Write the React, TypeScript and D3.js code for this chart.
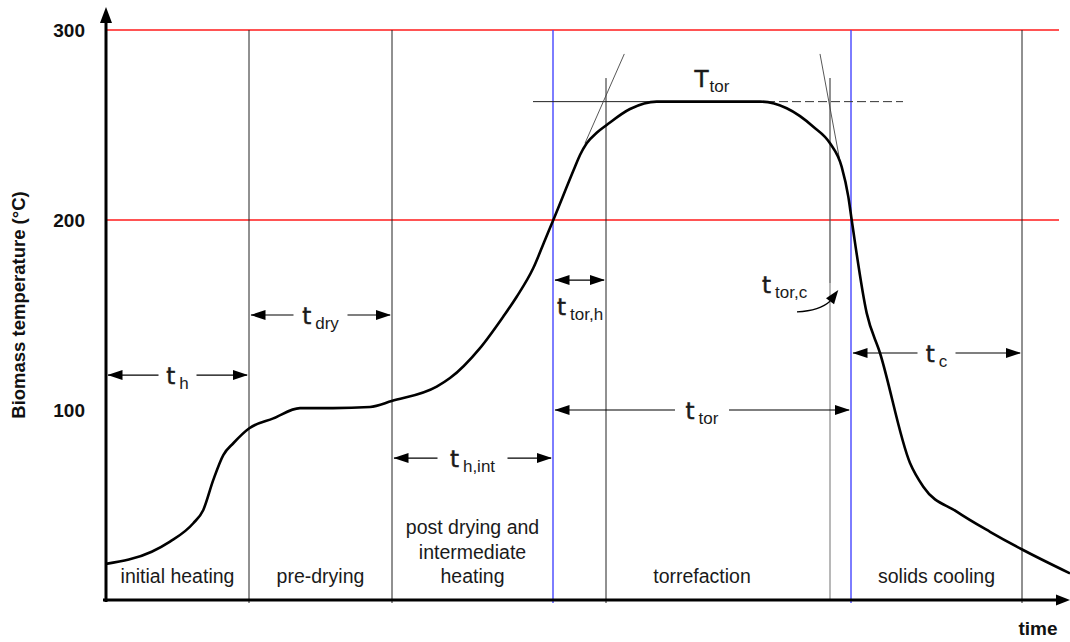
import React from "react";
import * as d3 from "d3";

// Biomass temperature profile through a torrefaction process
const curveTime = [0, 4.57, 6.4, 8.73, 9.73, 10.73, 11.73, 12.73, 14.33, 16.73, 19.4, 22.7, 26.4, 28.57, 33.07, 34.4, 37.4, 39.7, 41.07, 42.73, 43.9, 44.73, 46.9, 47.4, 48.07, 49.07, 50.07, 52.4, 55.07, 65.4, 68.07, 70.73, 72.4, 73.57, 74.23, 74.57, 76.07, 77.4, 80.4, 81.73, 85.07, 88.4, 91.57, 96.4];
const curveTemp = [19, 25.4, 30.7, 40.4, 47.4, 63.2, 76.3, 82.5, 90.4, 95.6, 101, 101, 101.6, 104.7, 112.3, 116.8, 132.6, 149, 159.6, 174.7, 189.5, 200, 228, 234.2, 240.4, 245.9, 250, 258.4, 262.3, 262.3, 258.8, 249.1, 240.4, 228, 212.3, 200, 151, 130, 72.1, 59.6, 46.5, 35.9, 26.7, 14];

const TIME_MAX = 96.4;
const tickValues = [100, 200, 300];
const thresholdTemps = [200, 300];
const torrefactionTemp = 262.3;

// Phase boundaries (time)
const phaseEdges = [0, 14.3, 28.6, 44.7, 74.5, 91.6];
const phaseNames = [["initial heating"], ["pre-drying"], ["post drying and", "intermediate", "heating"], ["torrefaction"], ["solids cooling"]];
const blackEdges = [14.3, 28.6, 91.6];
const blueEdges = [44.7, 74.5];
const heatupEnd = 50.0;
const cooldownStart = 72.4;
const guideTop = 274.7;

// Tangent construction lines [t0, T0, t1, T1]
const tangentLines = [
  [47.9, 240.4, 51.83, 287.4],
  [71.4, 287.4, 73.4, 230.7],
];

// Duration annotations: start, end, temperature level of arrow, subscript
const durFrom = [0, 14.3, 28.6, 44.7, 74.5];
const durTo = [14.3, 28.6, 44.7, 74.5, 91.6];
const durLevel = [118.4, 150, 74.7, 100, 130];
const durSub = ["h", "dry", "h,int", "tor", "c"];

const W = 1070;
const H = 642;

const x = d3.scaleLinear().domain([0, TIME_MAX]).range([106, 1070]);
const y = d3.scaleLinear().domain([0, 300]).range([600, 30]);

const SYM_FONT = "'DejaVu Sans', Verdana, sans-serif";
const SUB_FONT = "'Liberation Sans Narrow', 'Arial Narrow', 'Liberation Sans', Arial, sans-serif";
const LABEL_FONT = "'Liberation Sans Narrow', 'Arial Narrow', 'Liberation Sans', Arial, sans-serif";
const TEXT_COLOR = "#1a1a1a";

function Sym({ x0, y0, main, sub, anchor = "middle", mainSize = 23 }: { x0: number; y0: number; main: string; sub: string; anchor?: string; mainSize?: number }) {
  return (
    <text x={x0} y={y0} textAnchor={anchor} fill={TEXT_COLOR}>
      <tspan fontFamily={SYM_FONT} fontSize={mainSize} stroke={TEXT_COLOR} strokeWidth={0.5}>{main}</tspan>
      <tspan fontFamily={SUB_FONT} fontSize={17} dx={main === "T" ? 1 : 4} dy={5}>{sub}</tspan>
    </text>
  );
}

function headLeft(px: number, py: number) {
  return `M${px},${py} L${px + 15},${py - 5} L${px + 15},${py + 5} Z`;
}
function headRight(px: number, py: number) {
  return `M${px},${py} L${px - 15},${py - 5} L${px - 15},${py + 5} Z`;
}

export default function App() {
  const line = d3
    .line<number>()
    .x((_, i) => x(curveTime[i]))
    .y((d) => y(d))
    .curve(d3.curveMonotoneX);
  const curvePath = line(curveTemp) || "";

  const xLeft = x(0);
  const xRight = x(TIME_MAX);
  const yBase = y(0);

  // t_tor,c curved pointer
  const pStart = [x(69.1), y(151.6)];
  const pTip = [x(73.23), y(163.2)];
  const ang = Math.atan2(pTip[1] - (y(151.6) - 8), pTip[0] - x(72.2));
  const hl = 14;
  const hw = 5;
  const bx = pTip[0] - hl * Math.cos(ang);
  const by = pTip[1] - hl * Math.sin(ang);
  const nx = -Math.sin(ang) * hw;
  const ny = Math.cos(ang) * hw;

  return (
    <svg width={W} height={H} style={{ position: "absolute", left: 0, top: 0, background: "#fff" }}>
      <rect x={0} y={0} width={W} height={H} fill="#fff" />

      {/* threshold levels */}
      {thresholdTemps.map((v) => (
        <line key={v} x1={xLeft} x2={1059} y1={y(v)} y2={y(v)} stroke="#ff1a1a" strokeWidth={1.3} />
      ))}

      {/* phase boundaries */}
      {blackEdges.map((t) => (
        <line key={t} x1={x(t)} x2={x(t)} y1={y(300)} y2={yBase + 3} stroke="#222" strokeWidth={1} />
      ))}
      {blueEdges.map((t) => (
        <line key={t} x1={x(t)} x2={x(t)} y1={y(300)} y2={yBase + 3} stroke="#4646ff" strokeWidth={1.4} />
      ))}
      <line x1={x(heatupEnd)} x2={x(heatupEnd)} y1={y(guideTop)} y2={yBase + 3} stroke="#222" strokeWidth={1} />
      <line x1={x(cooldownStart)} x2={x(cooldownStart)} y1={y(guideTop)} y2={y(166.8)} stroke="#555" strokeWidth={1.3} />
      <line x1={x(cooldownStart)} x2={x(cooldownStart)} y1={y(166.8)} y2={yBase} stroke="#b8b8b8" strokeWidth={2} />

      {/* torrefaction temperature level */}
      <line x1={x(42.7)} x2={x(66)} y1={y(torrefactionTemp)} y2={y(torrefactionTemp)} stroke="#222" strokeWidth={1} />
      <line x1={x(66)} x2={x(79.7)} y1={y(torrefactionTemp)} y2={y(torrefactionTemp)} stroke="#333" strokeWidth={1} strokeDasharray="9,4" />

      {/* tangent construction lines */}
      {tangentLines.map((l, i) => (
        <line key={i} x1={x(l[0])} y1={y(l[1])} x2={x(l[2])} y2={y(l[3])} stroke="#444" strokeWidth={0.9} />
      ))}

      {/* temperature curve */}
      <path d={curvePath} fill="none" stroke="#000" strokeWidth={2.6} strokeLinejoin="round" />

      {/* axes */}
      <line x1={xLeft} x2={xLeft} y1={yBase + 2} y2={20} stroke="#000" strokeWidth={3} />
      <path d={`M${xLeft},7 L${xLeft - 6},23 L${xLeft + 6},23 Z`} fill="#000" />
      <line x1={xLeft - 3} x2={1058} y1={yBase} y2={yBase} stroke="#000" strokeWidth={3} />
      <path d={`M${xRight},${yBase} L${xRight - 14},${yBase - 5.5} L${xRight - 14},${yBase + 5.5} Z`} fill="#000" />

      {tickValues.map((v) => (
        <text key={v} x={85} y={y(v) + 6.5} textAnchor="end" fontFamily={LABEL_FONT} fontWeight="bold" fontSize={19} fill="#111">
          {v}
        </text>
      ))}
      <text
        transform={`translate(25,${y(0) - 295}) rotate(-90)`}
        textAnchor="middle"
        fontFamily={LABEL_FONT}
        fontWeight="bold"
        fontSize={18.5}
        fill="#111"
      >
        Biomass temperature (°C)
      </text>
      <text x={1038} y={635} textAnchor="middle" fontFamily={LABEL_FONT} fontWeight="bold" fontSize={19} fill="#111">
        time
      </text>

      {/* phase names */}
      {phaseNames.map((lines, i) => {
        const cx = x((phaseEdges[i] + phaseEdges[i + 1]) / 2);
        return lines.map((s, j) => (
          <text
            key={`${i}-${j}`}
            x={cx}
            y={583 - (lines.length - 1 - j) * 24.5}
            textAnchor="middle"
            fontFamily={LABEL_FONT}
            fontSize={19.5}
            fill={TEXT_COLOR}
          >
            {s}
          </text>
        ));
      })}

      {/* duration arrows */}
      {durFrom.map((t0, i) => {
        const x0 = x(t0);
        const x1 = x(durTo[i]);
        const cy = y(durLevel[i]);
        const cx = (x0 + x1) / 2;
        const g = 15 + durSub[i].length * 4;
        return (
          <g key={i}>
            <line x1={x0 + 2} x2={cx - g} y1={cy} y2={cy} stroke="#000" strokeWidth={1.2} />
            <line x1={cx + g} x2={x1 - 2} y1={cy} y2={cy} stroke="#000" strokeWidth={1.2} />
            <path d={headLeft(x0 + 1.5, cy)} fill="#000" />
            <path d={headRight(x1 - 1, cy)} fill="#000" />
            <Sym x0={cx} y0={cy + 9} main="t" sub={durSub[i]} />
          </g>
        );
      })}

      {/* heat-up interval */}
      <g>
        <line x1={x(44.7) + 2} x2={x(heatupEnd) - 2} y1={y(168.4)} y2={y(168.4)} stroke="#000" strokeWidth={1.2} />
        <path d={headLeft(x(44.7) + 1.5, y(168.4))} fill="#000" />
        <path d={headRight(x(heatupEnd) - 1, y(168.4))} fill="#000" />
        <Sym x0={x(44.7) + 4} y0={y(168.4) + 35} main="t" sub="tor,h" anchor="start" />
      </g>

      {/* cool-down interval pointer */}
      <Sym x0={x(65.6)} y0={293} main="t" sub="tor,c" anchor="start" />
      <path
        d={`M${pStart[0]},${pStart[1]} Q${x(71.4)},${y(152.4)} ${bx},${by}`}
        fill="none"
        stroke="#000"
        strokeWidth={1.2}
      />
      <path d={`M${pTip[0]},${pTip[1]} L${bx + nx},${by + ny} L${bx - nx},${by - ny} Z`} fill="#000" />

      {/* torrefaction temperature symbol */}
      <Sym x0={x(60.6)} y0={87} main="T" sub="tor" />
    </svg>
  );
}
